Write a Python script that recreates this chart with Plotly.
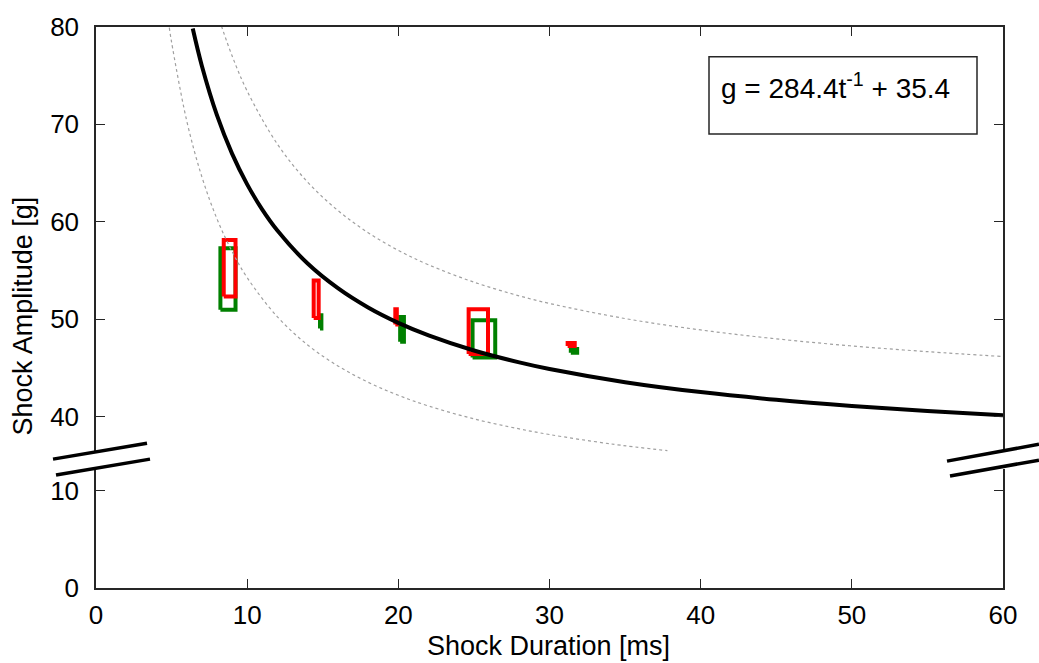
import plotly.graph_objects as go

# ---------------- data ----------------
# fitted curve g = 284.4 t^-1 + 35.4
fit_t = [6.4, 7, 8, 9, 10, 11, 12, 14, 16, 18, 20, 22, 25, 28, 30, 35, 40, 45, 50, 55, 60]
fit_g = [79.84, 76.03, 70.95, 67.0, 63.84, 61.25, 59.1, 55.71, 53.18, 51.2, 49.62, 48.33,
         46.78, 45.56, 44.88, 43.53, 42.51, 41.72, 41.09, 40.57, 40.14]

# upper dashed bound
up_t = [8.3, 9, 10, 12, 14, 16, 18, 20, 22, 25, 28, 30, 35, 40, 45, 50, 55, 60]
up_g = [80.1, 77.05, 73.42, 67.97, 64.07, 61.16, 58.88, 57.06, 55.58, 53.8, 52.39, 51.61,
        50.06, 48.89, 47.98, 47.25, 46.66, 46.16]

# lower dashed bound
lo_t = [4.85, 5, 6, 7, 8, 9, 10, 12, 14, 16, 18, 20, 22, 25, 28, 30, 34, 37.8]
lo_g = [79.93, 78.44, 70.38, 64.63, 60.31, 56.95, 54.26, 50.24, 47.35, 45.2, 43.52, 42.18,
        41.08, 39.76, 38.73, 38.15, 37.2, 36.49]

# red ranges (duration min/max, amplitude min/max)
red_dur_min = [8.45, 14.4, 19.8, 24.65, 31.2]
red_dur_max = [9.23, 14.73, 19.9, 25.93, 31.67]
red_amp_min = [52.33, 50.12, 49.45, 46.43, 47.24]
red_amp_max = [58.13, 53.96, 51.01, 51.01, 47.55]

# green ranges
grn_dur_min = [8.23, 14.82, 20.12, 24.91, 31.41]
grn_dur_max = [9.23, 14.91, 20.37, 26.41, 31.83]
grn_amp_min = [50.97, 49.04, 47.68, 46.05, 46.56]
grn_amp_max = [57.29, 50.4, 50.23, 49.89, 46.94]

x_ticks = [0, 10, 20, 30, 40, 50, 60]
y_ticks_low = [0, 10]
y_ticks_up = [40, 50, 60, 70, 80]

equation = "g = 284.4t<sup>-1</sup> + 35.4"

# ---------------- figure ----------------
W, H = 1039, 663
ML, MR, MT, MB = 96, 36, 22, 75
PW, PH = W - ML - MR, H - MT - MB
FONT = "Liberation Sans, Arial"


def px(xp):
    return (xp - ML) / PW


def py(yp):
    return (H - MB - yp) / PH


def rect_path(x0s, x1s, y0s, y1s):
    xs, ys = [], []
    for a, b, c, d in zip(x0s, x1s, y0s, y1s):
        xs += [a, b, b, a, a, None]
        ys += [c, c, d, d, c, None]
    return xs, ys


fig = go.Figure()

# invisible trace so that the lower (0-10) axis pair is drawn
fig.add_trace(go.Scatter(x=[x_ticks[0], x_ticks[-1]], y=[y_ticks_low[0], y_ticks_low[0]],
                         mode="markers", xaxis="x", yaxis="y",
                         marker=dict(opacity=0, size=1), showlegend=False,
                         hoverinfo="skip"))

gx, gy = rect_path(grn_dur_min, grn_dur_max, grn_amp_min, grn_amp_max)
fig.add_trace(go.Scatter(x=gx, y=gy, mode="lines", xaxis="x2", yaxis="y2",
                         line=dict(color="#008000", width=4), showlegend=False,
                         hoverinfo="skip"))
rx, ry = rect_path(red_dur_min, red_dur_max, red_amp_min, red_amp_max)
fig.add_trace(go.Scatter(x=rx, y=ry, mode="lines", xaxis="x2", yaxis="y2",
                         line=dict(color="#ff0000", width=4), showlegend=False,
                         hoverinfo="skip"))

for tt, gg in [(up_t, up_g), (lo_t, lo_g)]:
    fig.add_trace(go.Scatter(x=tt, y=gg, mode="lines", xaxis="x2", yaxis="y2",
                             line=dict(color="#a0a0a0", width=1.2, dash="3px,3px",
                                       shape="spline"),
                             showlegend=False))

fig.add_trace(go.Scatter(x=fit_t, y=fit_g, mode="lines", xaxis="x2", yaxis="y2",
                         line=dict(color="black", width=4, shape="spline"),
                         showlegend=False))

axis_common = dict(showline=True, linecolor="#262626", linewidth=1.5,
                   ticks="inside", ticklen=9, tickcolor="#262626", tickwidth=1.2,
                   showgrid=False, zeroline=False,
                   tickfont=dict(family=FONT, size=26, color="black"))

low_top = 468
up_bottom = 451
low_range_top = (H - MB - low_top) / 9.8
up_range_bot = 80 - (up_bottom - MT) / 9.825

fig.update_layout(
    width=W, height=H,
    margin=dict(l=ML, r=MR, t=MT, b=MB),
    paper_bgcolor="white", plot_bgcolor="white",
    showlegend=False,
    xaxis=dict(domain=[0, 1], range=[0, 60], anchor="y", tickvals=x_ticks,
               ticklabelstandoff=3, **axis_common),
    xaxis2=dict(domain=[0, 1], range=[0, 60], anchor="y2", side="top",
                matches="x", tickvals=x_ticks, showticklabels=False, **axis_common),
    yaxis=dict(domain=[0, py(low_top)], range=[0, low_range_top], anchor="x",
               tickvals=y_ticks_low, mirror="ticks", ticklabelstandoff=10, **axis_common),
    yaxis2=dict(domain=[py(up_bottom), 1], range=[up_range_bot, 80], anchor="x2",
                tickvals=y_ticks_up, mirror="ticks", ticklabelstandoff=10, **axis_common),
)

# axis titles
fig.add_annotation(text="Shock Duration [ms]", xref="paper", yref="paper",
                   x=px(548), y=py(647), showarrow=False, xanchor="center", yanchor="middle",
                   font=dict(family=FONT, size=27, color="black"))
fig.add_annotation(text="Shock Amplitude [g]", xref="paper", yref="paper",
                   x=px(23), y=py(314), showarrow=False, xanchor="center", yanchor="middle",
                   textangle=-90,
                   font=dict(family=FONT, size=27, color="black"))

# equation box
fig.add_shape(type="rect", xref="paper", yref="paper",
              x0=px(709), x1=px(977), y0=py(130), y1=py(52),
              line=dict(color="#262626", width=1.5), fillcolor="white", layer="above")
fig.add_annotation(text=equation, xref="paper", yref="paper",
                   x=px(719), y=py(82), showarrow=False, xanchor="left", yanchor="middle",
                   font=dict(family=FONT, size=28, color="black"))

# axis break marks
def brk(ul, ur, lr, ll):
    path = "M {} {} L {} {} L {} {} L {} {} Z".format(
        px(ul[0]), py(ul[1]), px(ur[0]), py(ur[1]),
        px(lr[0]), py(lr[1]), px(ll[0]), py(ll[1]))
    fig.add_shape(type="path", path=path, xref="paper", yref="paper",
                  fillcolor="white", line=dict(width=0), layer="above")
    for a, b in [(ul, ur), (ll, lr)]:
        fig.add_shape(type="line", xref="paper", yref="paper",
                      x0=px(a[0]), y0=py(a[1]), x1=px(b[0]), y1=py(b[1]),
                      line=dict(color="black", width=3.5), layer="above")


brk((53, 458), (147, 442), (150, 458), (56, 474))
brk((947, 460), (1039, 443), (1039, 459), (950, 475))

fig.write_html("out.html")
